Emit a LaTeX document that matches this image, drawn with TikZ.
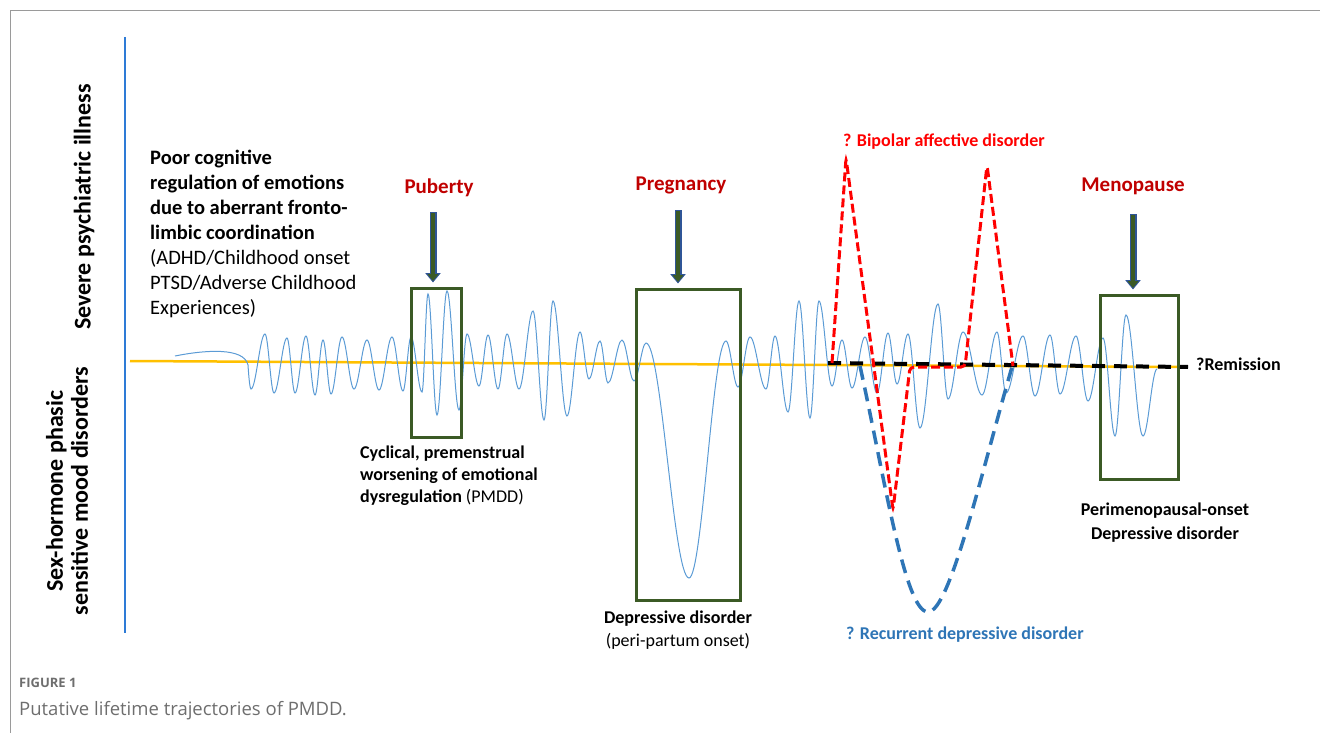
\documentclass[tikz,border=0pt]{standalone}
\usepackage{fontspec}
\setmainfont{Carlito}
\newfontfamily\capfont{Open Sans}
\usetikzlibrary{arrows.meta}
\definecolor{FrameGray}{HTML}{9A9A9A}
\definecolor{AxisBlue}{HTML}{2E7BD6}
\definecolor{WaveBlue}{HTML}{5B9BD5}
\definecolor{BaseYellow}{HTML}{FFC000}
\definecolor{BoxGreen}{HTML}{3B5A25}
\definecolor{ArrowBlue}{HTML}{2F5597}
\definecolor{StageRed}{HTML}{C00000}
\definecolor{BipolarRed}{HTML}{FF0000}
\definecolor{RecurBlue}{HTML}{2E75B6}
\definecolor{CapGray}{HTML}{6E6E6E}

\begin{document}
\begin{tikzpicture}[x=1pt,y=-1pt,
    txt/.style={inner sep=0pt,font=\fontsize{18}{22}\selectfont},
    stage/.style={inner sep=0pt,font=\bfseries\fontsize{21}{25}\selectfont,text=StageRed},
    axislbl/.style={inner sep=0pt,rotate=90,align=center,font=\bfseries\fontsize{24}{25}\selectfont},
    phase/.style={draw=BoxGreen,line width=3pt,inner sep=0pt},
    wave/.style={WaveBlue,line width=1pt},
    arrout/.style={ArrowBlue,line width=7pt,-{Triangle[width=15pt,length=9.5pt]},shorten >=4pt},
    arrin/.style={BoxGreen,line width=4.6pt,-{Triangle[width=10.5pt,length=6.8pt]},shorten >=5.6pt,shorten <=1.2pt},
    remit/.style={black,line width=4pt,dash pattern=on 13pt off 9pt},
    bipolar/.style={BipolarRed,line width=3pt,dash pattern=on 9pt off 4pt,rounded corners=4pt},
    recur/.style={RecurBlue,line width=3.5pt,dash pattern=on 14pt off 8pt}]
  \useasboundingbox (0,0) rectangle (1320,733);
  \draw[FrameGray,line width=1pt] (10,733) -- (10,11) -- (1320,11);

  % axis and its two labels
  \coordinate (axtop) at (125,37);
  \coordinate (axbot) at (125,633);
  \draw[AxisBlue,line width=2pt] (axtop) -- (axbot);
  \node[axislbl] (severe) at (84,207) {Severe psychiatric illness};
  \node[axislbl] (sexh) at (67,491) {Sex-hormone phasic\\sensitive mood disorders};

  % baseline and mood trace
  \coordinate (base0) at (130,361);
  \coordinate (base1) at (1178,367);
  \draw[BaseYellow,line width=2.5pt] (base0) -- (base1);
  \draw[wave] (175,356) .. controls (205,350) and (244,347) .. (248,365) .. controls (249,380) and (250,389) .. (251,389)
    \foreach \x/\y [remember=\x as \prevx (initially 251),remember=\y as \prevy (initially 389)] in
      {265/334,274/393,287/338,295/393,306/336,315/395,323/340,331/394,342/337,354/389,
       367/340,379/390,392/337,403/391,411/337,422/392,428/294,437/415,447/291,459/410,
       467/334,479/386,488/335,498/389,507/334,519/389,533/311,544/420,553/301,567/416,
       580/332,589/379,600/341,608/383,622/340,634/381,646/343,689/578,726/341,738/387,
       750/337,766/389,775/336,788/412,799/301,810/418,819/301,832/386,842/340,852/388,
       865/337,877/393,888/333,897/384,908/334,920/428,938/304,948/399,963/332,982/395,
       997/332,1006/393,1023/336,1035/396,1050/335,1060/394,1076/336,1088/401,1103/338,
       1115/436,1126/315,1143/436,1157/369}
    { .. controls ({\prevx+0.36*(\x-\prevx)},\prevy) and ({\x-0.36*(\x-\prevx)},\y) .. (\x,\y) };

  % life stages
  \node[phase,minimum width=50pt,minimum height=149pt] (pubbox) at (436,362.5) {};
  \node[phase,minimum width=104pt,minimum height=311pt] (pregbox) at (688,444.5) {};
  \node[phase,minimum width=78pt,minimum height=184pt] (menobox) at (1139,387) {};
  \node[stage] (puberty) at (439,188) {Puberty};
  \node[stage] (pregnancy) at (681,185) {Pregnancy};
  \node[stage] (menopause) at (1133,186) {Menopause};
  \coordinate (pubA) at (433,212);
  \coordinate (pregA) at (678,210);
  \coordinate (menoA) at (1133,214);
  \foreach \a/\b in {pubA/pubbox,pregA/pregbox,menoA/menobox}{
    \draw[arrout] (\a) -- (\a |- \b.north);
    \draw[arrin] (\a) -- (\a |- \b.north);
  }

  % later trajectories
  \coordinate (rem0) at (828,363);
  \coordinate (rem1) at (1188,367);
  \draw[remit] (rem0) -- (rem1);
  \draw[bipolar] (832,363) -- (846,158) -- (893,510) -- (910,367) -- (965,367) -- (987,165) -- (1013,366);
  \draw[recur] (860,366) .. controls (885,480) and (905,612) .. (928,612) .. controls (950,612) and (982,470) .. (1012,367);

  % texts
  \node[txt,anchor=north west,align=left,font=\fontsize{20.5}{25}\selectfont] (poor) at (150,150)
    {\textbf{Poor cognitive}\\\textbf{regulation of emotions}\\\textbf{due to aberrant fronto-}\\
     \textbf{limbic coordination}\\(ADHD/Childhood onset\\PTSD/Adverse Childhood\\Experiences)};
  \node[txt,anchor=north west,align=left] (cyc) at (360,446)
    {\textbf{Cyclical, premenstrual}\\\textbf{worsening of emotional}\\\textbf{dysregulation} (PMDD)};
  \node[txt,anchor=north,align=center,font=\fontsize{18}{23}\selectfont] (peri) at (678,611)
    {\textbf{Depressive disorder}\\(peri-partum onset)};
  \node[txt,anchor=north,align=center,font=\bfseries\fontsize{18}{24}\selectfont] (perimeno) at (1165,503)
    {Perimenopausal-onset\\Depressive disorder};
  \node[txt,anchor=west,font=\bfseries\fontsize{18}{22}\selectfont,text=BipolarRed] (bip) at (843,142) {? Bipolar affective disorder};
  \node[txt,anchor=west,font=\bfseries\fontsize{18}{22}\selectfont] (remlbl) at (1196,364) {?Remission};
  \node[txt,anchor=west,font=\bfseries\fontsize{18}{22}\selectfont,text=RecurBlue] (rec) at (846,635) {? Recurrent depressive disorder};

  % caption
  \node[inner sep=0pt,anchor=west,text=CapGray,font=\capfont\bfseries\fontsize{13}{15}\selectfont] (fig) at (19,683) {FIGURE 1};
  \node[inner sep=0pt,anchor=west,text=CapGray,font=\capfont\fontsize{18.5}{22}\selectfont] (cap) at (19,711) {Putative lifetime trajectories of PMDD.};
\end{tikzpicture}
\end{document}
